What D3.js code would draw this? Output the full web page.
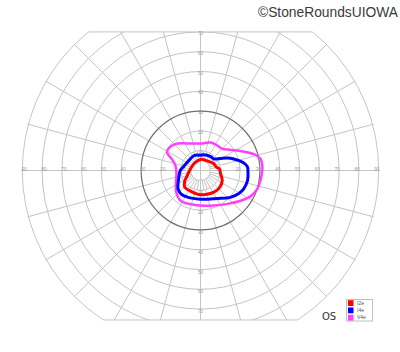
<!DOCTYPE html>
<html>
<head>
<meta charset="utf-8">
<script src="https://cdn.jsdelivr.net/npm/d3@7"></script>
<style>
  body { margin: 0; background: #fff; }
  svg { display: block; }
</style>
</head>
<body>
<div id="chart"></div>
<script>
// Isopters: [meridian angle (deg, 0 = right, counter-clockwise), eccentricity (deg)]
const isopterNames = ["I2e", "I4e", "V4e"];
const isopterColors = ["#ff0000", "#0000ff", "#ff40ff"];

const i2e = [[5, 9.6], [12, 8.2], [28, 7.5], [52, 6.0], [90, 5.6], [129, 4.8], [170, 5.1],
  [201, 7.2], [216, 10], [227, 11.6], [244, 11.6], [266, 12.2], [282, 12.4], [302, 12.9],
  [319, 12.9], [335, 12.1], [352, 10.2]];

const i4e = [[5, 23.7], [11, 21.7], [19, 17.8], [25, 14.9], [31, 11.8], [41, 8.9], [54, 8.7],
  [79, 8.1], [90, 7.7], [112, 8.2], [145, 7.8], [165, 8.6], [180, 10.2], [204, 12.2],
  [219, 14.6], [230, 15.4], [244, 15], [270, 14.5], [301, 16.5], [318, 20.3], [329, 22.6],
  [337, 23.7], [348, 24.3], [358, 24]];

const v4e = [[0, 31.2], [5, 31.3], [11, 30.9], [17, 28.2], [26, 22.5], [38, 17.2], [45, 15.5],
  [56, 15.2], [70, 15], [90, 13.6], [116, 15.2], [133, 18.4], [145, 19.6], [152, 19.1],
  [159, 15.3], [169, 12.9], [185, 12.2], [206, 13.8], [221, 16.3], [233, 18], [242, 18.3],
  [253, 17.7], [270, 17.7], [291, 18.9], [309, 21.7], [323, 25.4], [333, 28.5], [342, 30.2],
  [351, 30.7]];

const isopters = [i2e, i4e, v4e];

// Grid
const ringDegrees = [10, 20, 30, 40, 50, 60, 70, 80, 90];
const sideLabels = [10, 20, 30, 40, 50, 60, 70, 80, 90];
const upDownLabels = [10, 20, 30, 40, 50, 60, 70];
const spokeAngles = d3.range(0, 360, 15);
const innerSpokeAngles = d3.range(0, 360, 10);
const topLimit = 70, bottomLimit = 75.5;

const width = 400, height = 352;
const cx = 200.5, cy = 170.5;
const r = d3.scaleLinear().domain([0, 90]).range([0, 178.2]);
const gridColor = "#c4c4c4";

const px = (a, e) => cx + r(e) * Math.cos(a * Math.PI / 180);
const py = (a, e) => cy - r(e) * Math.sin(a * Math.PI / 180);

const svg = d3.select("#chart")
  .append("svg")
  .attr("width", width)
  .attr("height", height);

const topY = cy - r(topLimit), bottomY = cy + r(bottomLimit);
const defs = svg.append("defs");
defs.append("clipPath").attr("id", "band")
  .append("rect").attr("x", 0).attr("y", topY).attr("width", width).attr("height", bottomY - topY);
defs.append("clipPath").attr("id", "disc")
  .append("circle").attr("cx", cx).attr("cy", cy).attr("r", r(90) + 1);

const grid = svg.append("g").attr("clip-path", "url(#band)")
  .append("g").attr("clip-path", "url(#disc)");

// spokes every 15 deg, from 10 deg outward
grid.selectAll(".spoke")
  .data(spokeAngles)
  .join("line")
  .attr("x1", a => px(a, 10)).attr("y1", a => py(a, 10))
  .attr("x2", a => px(a, 95)).attr("y2", a => py(a, 95))
  .attr("stroke", gridColor).attr("stroke-width", 1);

// finer spokes between 5 and 10 deg
grid.selectAll(".inner")
  .data(innerSpokeAngles)
  .join("line")
  .attr("x1", a => px(a, 5)).attr("y1", a => py(a, 5))
  .attr("x2", a => px(a, 10)).attr("y2", a => py(a, 10))
  .attr("stroke", gridColor).attr("stroke-width", 1);

// main axes
grid.append("line").attr("x1", px(180, 90)).attr("x2", px(0, 90))
  .attr("y1", cy).attr("y2", cy).attr("stroke", gridColor);
grid.append("line").attr("x1", cx).attr("x2", cx)
  .attr("y1", topY).attr("y2", bottomY).attr("stroke", gridColor);

// rings
grid.selectAll(".ring")
  .data([5].concat(ringDegrees))
  .join("circle")
  .attr("cx", cx).attr("cy", cy).attr("r", d => r(d))
  .attr("fill", "none")
  .attr("stroke", d => d === 30 ? "#707070" : gridColor)
  .attr("stroke-width", d => d === 30 ? 1.2 : 1);

// top and bottom edges of the field
[topY, bottomY].forEach(y => {
  const half = Math.sqrt(r(90) * r(90) - (y - cy) * (y - cy));
  svg.append("line")
    .attr("x1", cx - half).attr("x2", cx + half)
    .attr("y1", y).attr("y2", y)
    .attr("stroke", gridColor).attr("stroke-width", 1);
});

// degree labels
const labels = svg.append("g")
  .attr("font-family", "Liberation Sans, Arial, sans-serif")
  .attr("font-size", 4.5)
  .attr("fill", "#9a9a9a")
  .attr("text-anchor", "middle")
  .attr("dominant-baseline", "middle");

sideLabels.forEach(d => {
  labels.append("text").attr("x", cx - r(d) + 2).attr("y", cy - 1).text(d);
  labels.append("text").attr("x", cx + r(d) - 2).attr("y", cy - 1).text(d);
});
upDownLabels.forEach(d => {
  labels.append("text").attr("x", cx).attr("y", cy - r(d) + 2).text(d);
  labels.append("text").attr("x", cx).attr("y", cy + r(d) + 3).text(d);
});

// isopters
const line = d3.line()
  .x(d => px(d[0], d[1]))
  .y(d => py(d[0], d[1]))
  .curve(d3.curveCatmullRomClosed.alpha(0.5));

svg.selectAll(".isopter")
  .data(isopters.slice().reverse())
  .join("path")
  .attr("d", line)
  .attr("fill", "none")
  .attr("stroke", (d, i) => isopterColors[2 - i])
  .attr("stroke-width", (d, i) => i === 0 ? 2.5 : 3)
  .attr("stroke-linejoin", "round");

// legend
const legend = svg.append("g").attr("transform", "translate(346,299)");
legend.append("rect")
  .attr("x", 0.5).attr("y", 0.5).attr("width", 26).attr("height", 21.5)
  .attr("fill", "#fff").attr("stroke", "#c0c0c0");
isopterNames.forEach((name, i) => {
  legend.append("rect")
    .attr("x", 2).attr("y", 1.2 + i * 7.3).attr("width", 5.5).attr("height", 5.8)
    .attr("fill", isopterColors[i]);
  legend.append("text")
    .attr("x", 11).attr("y", 4.2 + i * 7.3)
    .attr("dominant-baseline", "middle")
    .attr("font-family", "Liberation Sans, Arial, sans-serif")
    .attr("font-size", 5)
    .attr("fill", "#555")
    .text(name);
});

// eye label and credit
svg.append("text")
  .attr("x", 322).attr("y", 320)
  .attr("font-family", "DejaVu Sans, sans-serif")
  .attr("font-size", 10)
  .attr("fill", "#333")
  .text("OS");

svg.append("text")
  .attr("x", 398).attr("y", 17)
  .attr("text-anchor", "end")
  .attr("font-family", "Liberation Sans, Arial, sans-serif")
  .attr("font-size", 13.8)
  .attr("fill", "#3a3a3a")
  .text("©StoneRoundsUIOWA");
</script>
</body>
</html>
